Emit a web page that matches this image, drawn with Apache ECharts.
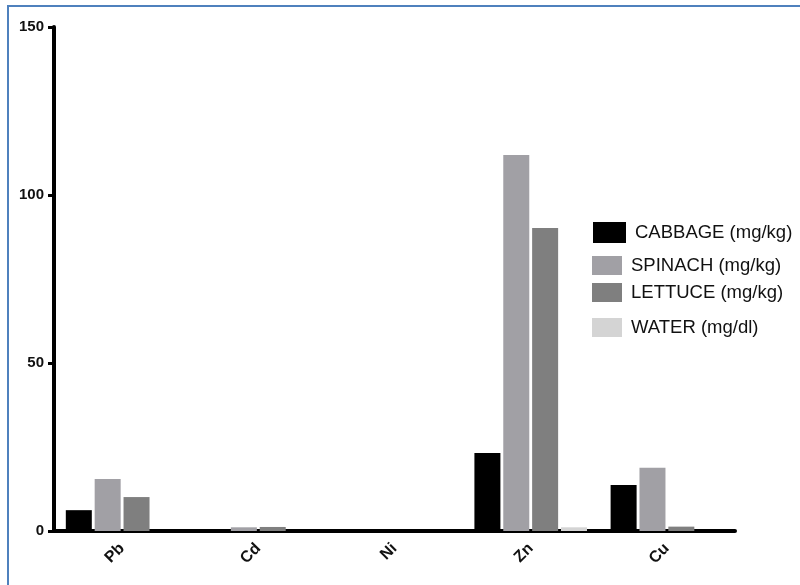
<!DOCTYPE html>
<html>
<head>
<meta charset="utf-8">
<script src="https://cdn.jsdelivr.net/npm/echarts@6/dist/echarts.min.js"></script>
<style>
  html, body { margin: 0; padding: 0; background: #fff; }
  #chart { width: 800px; height: 585px; }
</style>
</head>
<body>
<div id="chart"></div>
<script>
// metals on the x axis
var categories = ['Pb', 'Cd', 'Ni', 'Zn', 'Cu'];
// values
var cabbage = [6.2, 0, 0, 23.2, 13.7];
var spinach = [15.5, 1.1, 0, 111.9, 18.8];
var lettuce = [10.1, 1.2, 0, 90.2, 1.3];
var water = [0, 0, 0, 1.1, 0];
var seriesNames = ['CABBAGE (mg/kg)', 'SPINACH (mg/kg)', 'LETTUCE (mg/kg)', 'WATER (mg/dl)'];
var colors = ['#000000', '#a1a0a5', '#7f7f7f', '#d4d4d4'];

var legendTops = [217, 251, 278, 313];     // spacing is uneven in the picture
var legends = [];
for (var i = 0; i < seriesNames.length; i++) {
    legends.push({
        data: [seriesNames[i]],
        left: i == 0 ? 588 : 587,
        top: legendTops[i],
        orient: 'vertical',
        icon: 'rect',
        itemWidth: i == 0 ? 33 : 30,
        itemHeight: i == 0 ? 21 : 19,
        itemGap: 0,
        selectedMode: false,
        textStyle: { color: '#111', fontSize: 18.5, fontFamily: 'Arial', padding: [0, 0, 0, 4] }
    });
}

function bar(name, data, color) {
    return {
        name: name,
        type: 'bar',
        data: data,
        barWidth: 26,
        barGap: '11%',
        itemStyle: { color: color },
        emphasis: { disabled: true }
    };
}

var option = {
    animation: false,
    color: colors,
    graphic: [{                      // blue frame, only top and left edges show
        type: 'rect',
        silent: true,
        shape: { x: 8, y: 6, width: 900, height: 900 },
        style: { fill: 'none', stroke: '#4f81bd', lineWidth: 2 }
    }],
    legend: legends,
    grid: { left: 54, top: 27, width: 681, height: 504, containLabel: false },
    xAxis: {
        type: 'category',
        data: categories,
        axisLine: { lineStyle: { color: '#000', width: 4 } },
        axisTick: { alignWithLabel: true, length: 5, lineStyle: { color: '#000', width: 3 } },
        axisLabel: { rotate: 45, margin: 15, color: '#111', fontSize: 16, fontWeight: 'bold', fontFamily: 'Arial' },
        splitLine: { show: false }
    },
    yAxis: {
        type: 'value',
        min: 0,
        max: 150,
        interval: 50,
        axisLine: { show: true, lineStyle: { color: '#000', width: 4 } },
        axisTick: { show: true, length: 6, lineStyle: { color: '#000', width: 3 } },
        axisLabel: { margin: 10, color: '#111', fontSize: 15, fontWeight: 'bold', fontFamily: 'Arial' },
        splitLine: { show: false }
    },
    series: [
        bar(seriesNames[0], cabbage, colors[0]),
        bar(seriesNames[1], spinach, colors[1]),
        bar(seriesNames[2], lettuce, colors[2]),
        bar(seriesNames[3], water, colors[3])
    ]
};

var myChart = echarts.init(document.getElementById('chart'));
option && myChart.setOption(option);
</script>
</body>
</html>
